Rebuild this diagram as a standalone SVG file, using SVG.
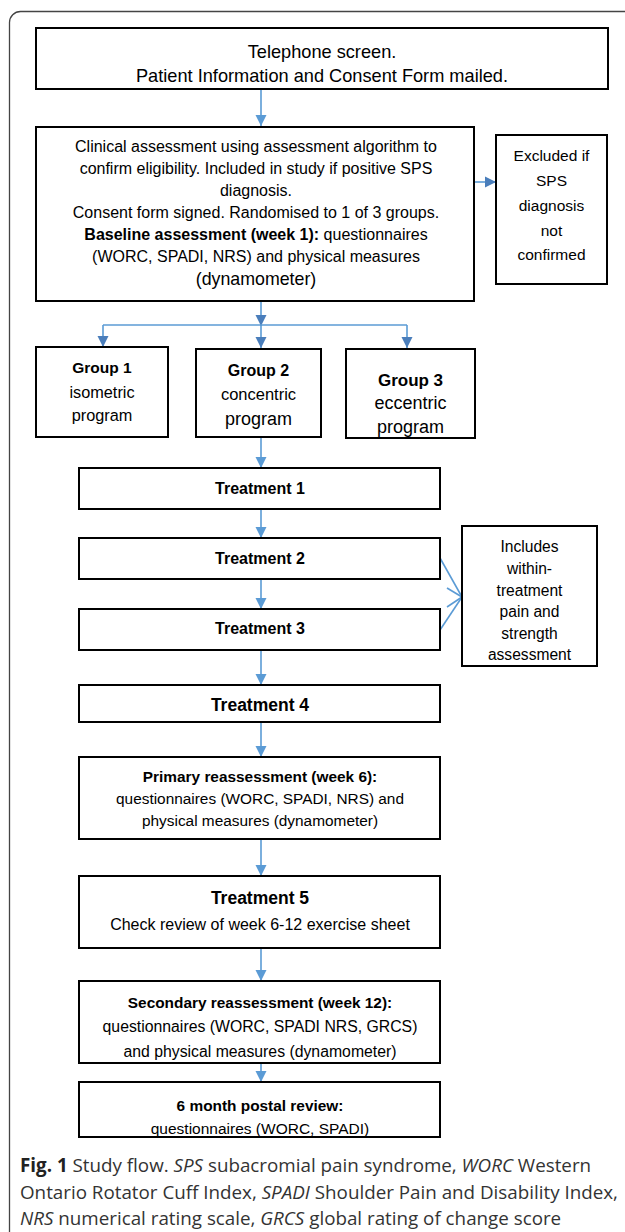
<svg xmlns="http://www.w3.org/2000/svg" width="625" height="1232" viewBox="0 0 625 1232">
<style>
.box{fill:#fff;stroke:#000;stroke-width:2}
.t{font-family:"Liberation Sans",Arial,sans-serif;fill:#000;text-anchor:middle}
.b{font-weight:bold}
.ln{stroke:#5b9bd5;stroke-width:1.6;fill:none}
.cap{font-family:"Open Sans","Noto Sans",sans-serif;font-size:18.8px;fill:#333}
</style>
<defs>
<marker id="ah" markerUnits="userSpaceOnUse" markerWidth="12" markerHeight="12" refX="11" refY="6" orient="auto">
<path d="M0,0.5 L11,6 L0,11.5 Z" fill="#5b9bd5"/>
</marker>
<marker id="ahd" markerUnits="userSpaceOnUse" markerWidth="12" markerHeight="12" refX="11" refY="6" orient="auto">
<path d="M0,0.5 L11,6 L0,11.5 Z" fill="#4a7ebb"/>
</marker>
</defs>
<rect x="9.5" y="11.5" width="700" height="1300" rx="11" fill="#fff" stroke="#444" stroke-width="1.3"/>

<g id="connectors">
<line class="ln" x1="261" y1="90" x2="261" y2="126" marker-end="url(#ah)"/>
<line class="ln" x1="475" y1="182" x2="496" y2="182" stroke="#4a7ebb" marker-end="url(#ahd)"/>
<line class="ln" x1="261" y1="302" x2="261" y2="326" stroke="#4a7ebb" marker-end="url(#ahd)"/>
<line class="ln" x1="103" y1="325" x2="407" y2="325" stroke="#7ea6d8"/>
<line class="ln" x1="103" y1="325" x2="103" y2="347" stroke="#4a7ebb" marker-end="url(#ahd)"/>
<line class="ln" x1="261" y1="325" x2="261" y2="348" stroke="#4a7ebb" marker-end="url(#ahd)"/>
<line class="ln" x1="407" y1="325" x2="407" y2="348" stroke="#4a7ebb" marker-end="url(#ahd)"/>
<line class="ln" x1="261" y1="438" x2="261" y2="468" marker-end="url(#ah)"/>
<line class="ln" x1="261" y1="510" x2="261" y2="538" marker-end="url(#ah)"/>
<line class="ln" x1="261" y1="580" x2="261" y2="609" marker-end="url(#ah)"/>
<line class="ln" x1="261" y1="651" x2="261" y2="685" marker-end="url(#ah)"/>
<line class="ln" x1="261" y1="723" x2="261" y2="757" marker-end="url(#ah)"/>
<line class="ln" x1="261" y1="840" x2="261" y2="876" marker-end="url(#ah)"/>
<line class="ln" x1="261" y1="949" x2="261" y2="981" marker-end="url(#ah)"/>
<line class="ln" x1="261" y1="1064" x2="261" y2="1082" marker-end="url(#ah)"/>
<line class="ln" x1="440" y1="558" x2="462" y2="597"/>
<line class="ln" x1="440" y1="630" x2="462" y2="597"/>
<line class="ln" x1="447" y1="588" x2="462" y2="597"/>
<line class="ln" x1="447" y1="607" x2="462" y2="597"/>
</g>

<g id="n-telephone">
<rect class="box" x="36" y="28" width="572" height="61"/>
<text class="t" x="322" y="58" font-size="18.2">Telephone screen.</text>
<text class="t" x="322" y="82" font-size="18.2">Patient Information and Consent Form mailed.</text>
</g>

<g id="n-clinical">
<rect class="box" x="36" y="127" width="438" height="174"/>
<text class="t" x="256" y="152" font-size="16">Clinical assessment using assessment algorithm to</text>
<text class="t" x="256" y="174" font-size="16">confirm eligibility. Included in study if positive SPS</text>
<text class="t" x="256" y="196" font-size="16">diagnosis.</text>
<text class="t" x="256" y="218" font-size="16">Consent form signed. Randomised to 1 of 3 groups.</text>
<text class="t" x="256" y="240" font-size="16"><tspan class="b">Baseline assessment (week 1):</tspan> questionnaires</text>
<text class="t" x="256" y="262" font-size="16">(WORC, SPADI, NRS) and physical measures</text>
<text class="t" x="256" y="285" font-size="17.8">(dynamometer)</text>
</g>

<g id="n-excluded">
<rect class="box" x="496" y="135" width="111" height="149"/>
<text class="t" x="551.5" y="161" font-size="15.5">Excluded if</text>
<text class="t" x="551.5" y="186" font-size="15.5">SPS</text>
<text class="t" x="551.5" y="211" font-size="15.5">diagnosis</text>
<text class="t" x="551.5" y="236" font-size="15.5">not</text>
<text class="t" x="551.5" y="260" font-size="15.5">confirmed</text>
</g>

<g id="n-group1">
<rect class="box" x="36" y="347" width="132" height="90"/>
<text class="t b" x="102" y="373" font-size="15.5">Group 1</text>
<text class="t" x="102" y="398" font-size="16.3">isometric</text>
<text class="t" x="102" y="421" font-size="16.3">program</text>
</g>

<g id="n-group2">
<rect class="box" x="196" y="349" width="125" height="88"/>
<text class="t b" x="258.5" y="376" font-size="16">Group 2</text>
<text class="t" x="258.5" y="400" font-size="16.5">concentric</text>
<text class="t" x="258.5" y="425" font-size="18">program</text>
</g>

<g id="n-group3">
<rect class="box" x="346" y="349" width="129" height="89"/>
<text class="t b" x="410.5" y="386" font-size="17">Group 3</text>
<text class="t" x="410.5" y="409" font-size="18">eccentric</text>
<text class="t" x="410.5" y="433" font-size="18">program</text>
</g>

<g id="n-t1">
<rect class="box" x="79" y="468" width="361" height="41"/>
<text class="t b" x="260" y="494" font-size="16">Treatment 1</text>
</g>

<g id="n-t2">
<rect class="box" x="79" y="538" width="361" height="41"/>
<text class="t b" x="260" y="564" font-size="16">Treatment 2</text>
</g>

<g id="n-t3">
<rect class="box" x="79" y="609" width="361" height="41"/>
<text class="t b" x="260" y="634" font-size="16">Treatment 3</text>
</g>

<g id="n-includes">
<rect class="box" x="462" y="526" width="135" height="140"/>
<text class="t" x="529.5" y="552" font-size="15.6">Includes</text>
<text class="t" x="529.5" y="574" font-size="15.6">within-</text>
<text class="t" x="529.5" y="596" font-size="15.6">treatment</text>
<text class="t" x="529.5" y="617" font-size="15.6">pain and</text>
<text class="t" x="529.5" y="639" font-size="15.6">strength</text>
<text class="t" x="529.5" y="660" font-size="15.6">assessment</text>
</g>

<g id="n-t4">
<rect class="box" x="79" y="685" width="361" height="37"/>
<text class="t b" x="260" y="711" font-size="17.5">Treatment 4</text>
</g>

<g id="n-primary">
<rect class="box" x="79" y="757" width="361" height="82"/>
<text class="t b" x="260" y="782" font-size="15.4">Primary reassessment (week 6):</text>
<text class="t" x="260" y="804" font-size="15.4">questionnaires (WORC, SPADI, NRS) and</text>
<text class="t" x="260" y="826" font-size="15.4">physical measures (dynamometer)</text>
</g>

<g id="n-t5">
<rect class="box" x="79" y="876" width="361" height="72"/>
<text class="t b" x="260" y="904" font-size="17.5">Treatment 5</text>
<text class="t" x="260" y="930" font-size="16">Check review of week 6-12 exercise sheet</text>
</g>

<g id="n-secondary">
<rect class="box" x="79" y="981" width="361" height="82"/>
<text class="t b" x="260" y="1008" font-size="15.4">Secondary reassessment (week 12):</text>
<text class="t" x="260" y="1032" font-size="15.8">questionnaires (WORC, SPADI NRS, GRCS)</text>
<text class="t" x="260" y="1057" font-size="15.8">and physical measures (dynamometer)</text>
</g>

<g id="n-6month">
<rect class="box" x="79" y="1082" width="361" height="55"/>
<text class="t b" x="260" y="1111" font-size="15.4">6 month postal review:</text>
<text class="t" x="260" y="1134" font-size="15.5">questionnaires (WORC, SPADI)</text>
</g>

<g id="caption">
<text class="cap" x="20" y="1172"><tspan font-weight="bold" fill="#222">Fig. 1</tspan> Study flow. <tspan font-style="italic">SPS</tspan> subacromial pain syndrome, <tspan font-style="italic">WORC</tspan> Western</text>
<text class="cap" x="20" y="1199">Ontario Rotator Cuff Index, <tspan font-style="italic">SPADI</tspan> Shoulder Pain and Disability Index,</text>
<text class="cap" x="20" y="1225"><tspan font-style="italic">NRS</tspan> numerical rating scale, <tspan font-style="italic">GRCS</tspan> global rating of change score</text>
</g>
</svg>
